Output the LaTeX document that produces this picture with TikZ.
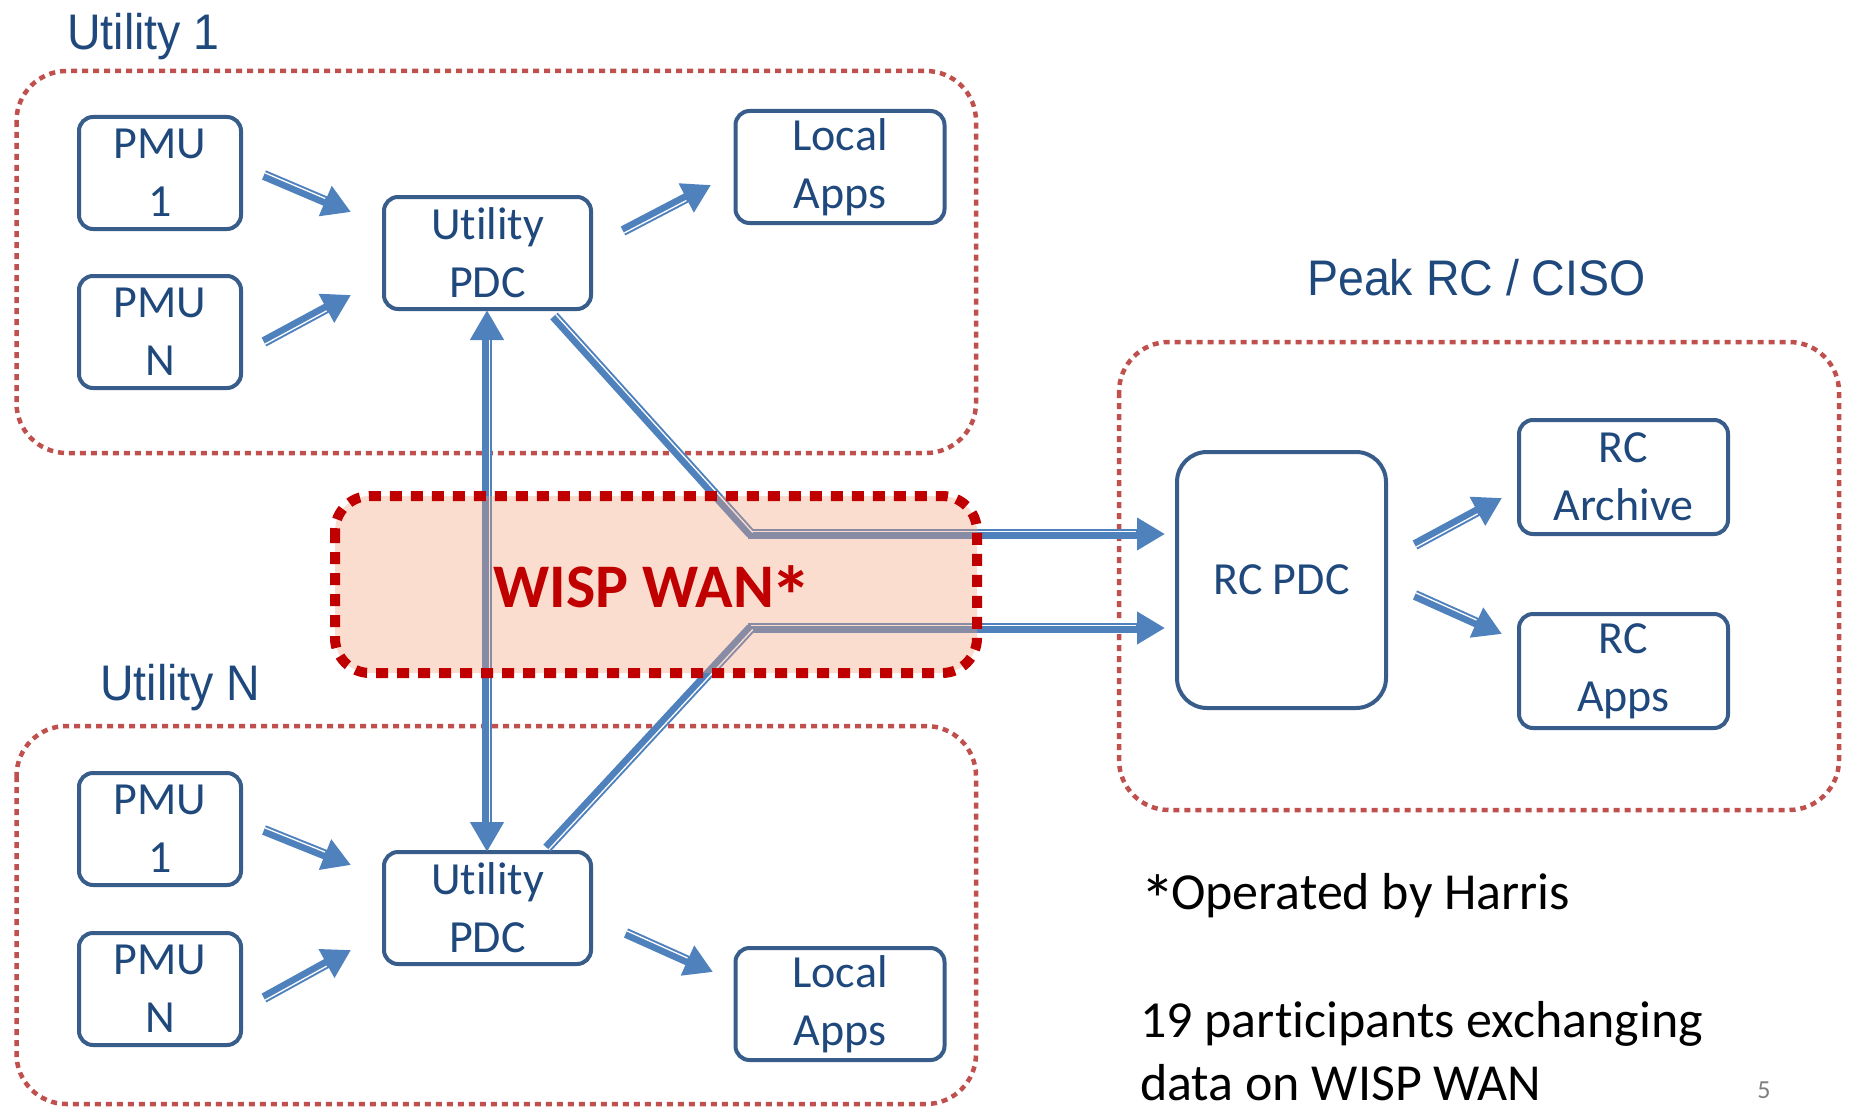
\documentclass[tikz,border=0pt]{standalone}
\usepackage{fontspec}
\setmainfont[RawFeature={-liga;-clig;-calt}]{Carlito}
\newfontfamily\headfont[FakeStretch=0.93]{Liberation Sans}
\usetikzlibrary{arrows.meta,calc}
\definecolor{boxblue}{RGB}{56,93,138}
\definecolor{txtblue}{RGB}{31,73,125}
\definecolor{arrowblue}{RGB}{79,129,189}
\definecolor{dotred}{RGB}{192,80,77}
\definecolor{wanred}{RGB}{192,0,0}
\definecolor{wanfill}{RGB}{245,160,120}
\newcommand\bigast{\raisebox{-0.3em}{\scalebox{1.35}{*}}}
\tikzset{
  box/.style={draw=boxblue, line width=4pt, rounded corners=14pt, fill=white, text=txtblue,
    align=center, inner sep=0pt, minimum height=112pt, font=\fontsize{46}{58}\selectfont},
  group/.style={draw=dotred, line width=4.5pt, dash pattern=on 6pt off 5pt, rounded corners=50pt},
  headtext/.style={text=txtblue, inner sep=0pt, anchor=base west, font=\headfont\fontsize{50}{60}\selectfont},
  note/.style={text=black, inner sep=0pt, anchor=base west, font=\fontsize{52}{61}\selectfont},
  flow/.style={draw=arrowblue, line width=10pt, -{Triangle[length=28pt,width=31pt]}},
  flowboth/.style={draw=arrowblue, line width=10pt, {Triangle[length=30pt,width=32pt]}-{Triangle[length=30pt,width=32pt]}},
  bar/.style={draw=arrowblue, line width=10pt},
  stripe/.style={draw=white, line width=1.3pt}
}
\newcommand\flowarrow[3]{%
  \draw[flow] (#1) -- (#2);
  \path ($(#1)!2.35pt!#3:(#2)$) coordinate (s1);
  \draw[stripe, shorten >=29pt] (s1) -- ($(#2)+(s1)-(#1)$);}
\newcommand\stripeseg[3]{%
  \path ($(#1)!2.35pt!#3:(#2)$) coordinate (s1);
  \draw[stripe] (s1) -- ($(#2)+(s1)-(#1)$);}
\begin{document}
\begin{tikzpicture}[x=1pt,y=-1pt]
\useasboundingbox (0,0) rectangle (1851,1110);
\fill[white] (0,0) rectangle (1851,1110);

% group boxes
\draw[group] (16.5,71) rectangle (976,453);
\draw[group] (16.5,726) rectangle (976,1104);
\draw[group] (1119,342) rectangle (1839,810);

% labels
\node[headtext] (u1lbl) at (67,50) {Utility 1};
\node[headtext] (unlbl) at (100,700) {Utility N};
\node[headtext] (peaklbl) at (1307,295) {Peak RC / CISO};

% nodes utility 1
\node[box, minimum width=162pt] (pmu1a) at (160,173) {PMU\\1};
\node[box, minimum width=162pt] (pmuna) at (160,332) {PMU\\N};
\node[box, minimum width=207pt] (pdca) at (487.5,253) {Utility\\PDC};
\node[box, minimum width=209pt] (appsa) at (840,167) {Local\\Apps};
% nodes utility N
\node[box, minimum width=162pt] (pmu1b) at (160,829) {PMU\\1};
\node[box, minimum width=162pt] (pmunb) at (160,989) {PMU\\N};
\node[box, minimum width=207pt] (pdcb) at (487.5,908) {Utility\\PDC};
\node[box, minimum width=209pt] (appsb) at (840,1004) {Local\\Apps};
% RC
\node[box, minimum width=209pt, minimum height=256pt, rounded corners=30pt] (rcpdc) at (1281.5,580) {RC PDC};
\node[box, minimum width=209pt, minimum height=114pt] (rcarch) at (1623.5,477) {RC\\Archive};
\node[box, minimum width=209pt, minimum height=114pt] (rcapps) at (1623.5,671) {RC\\Apps};

% arrow endpoints
\coordinate (a1s) at (264,175); \coordinate (a1e) at (351,212);
\coordinate (a2s) at (264,342); \coordinate (a2e) at (351,295);
\coordinate (a3s) at (623,231); \coordinate (a3e) at (711,185);
\coordinate (b1s) at (264,830); \coordinate (b1e) at (351,865);
\coordinate (b2s) at (264,998); \coordinate (b2e) at (351,950);
\coordinate (b3s) at (626,933); \coordinate (b3e) at (713,972);
\coordinate (r1s) at (1415,545); \coordinate (r1e) at (1502,498);
\coordinate (r2s) at (1415,595); \coordinate (r2e) at (1502,634);

\flowarrow{a1s}{a1e}{90}
\flowarrow{a2s}{a2e}{-90}
\flowarrow{a3s}{a3e}{-90}
\flowarrow{b1s}{b1e}{90}
\flowarrow{b2s}{b2e}{-90}
\flowarrow{b3s}{b3e}{90}
\flowarrow{r1s}{r1e}{-90}
\flowarrow{r2s}{r2e}{90}

% vertical PDC link
\coordinate (vtop) at (487,310);
\coordinate (vbot) at (487,852);
\draw[flowboth] (vbot) -- (vtop);
\path ($(vbot)!2.35pt!-90:(vtop)$) coordinate (s1);
\draw[stripe, shorten <=30pt, shorten >=30pt] (s1) -- ($(vtop)+(s1)-(vbot)$);

% WAN links
\coordinate (ts) at (554,316); \coordinate (tc) at (751,534); \coordinate (te) at (1165,534);
\coordinate (bs) at (547,848); \coordinate (bc) at (751,628); \coordinate (be) at (1165,628);
\draw[bar] (ts) -- (tc);
\draw[flow] ([xshift=-3pt]tc) -- (te);
\stripeseg{ts}{tc}{90}
\path ($(tc)!2.35pt!90:(te)$) coordinate (s2);
\draw[stripe, shorten >=29pt] (s2) -- ($(te)+(s2)-(tc)$);
\draw[bar] (bs) -- (bc);
\draw[flow] ([xshift=-3pt]bc) -- (be);
\stripeseg{bs}{bc}{-90}
\path ($(bc)!2.35pt!90:(be)$) coordinate (s3);
\draw[stripe, shorten >=29pt] (s3) -- ($(be)+(s3)-(bc)$);

% WISP WAN
\fill[wanfill, fill opacity=0.35, rounded corners=35pt] (335,496) rectangle (977,673);
\draw[draw=wanred, line width=10pt, dash pattern=on 12pt off 9pt, rounded corners=35pt]
  (335,496) rectangle (977,673);
\node[text=wanred, anchor=base, inner sep=0pt, font=\bfseries\fontsize{62}{70}\selectfont] (wan) at (653,607) {WISP WAN\kern-0.05em\bigast};

% notes
\node[note] (note1) at (1140,909) {\bigast\kern-0.08em Operated by Harris};
\node[note] (note2) at (1140,1037) {19 participants exchanging};
\node[note] (note3) at (1140,1100) {data on WISP WAN};
\node[text=gray, font=\fontsize{26}{30}\selectfont] (pg) at (1764,1090) {5};
\end{tikzpicture}
\end{document}
